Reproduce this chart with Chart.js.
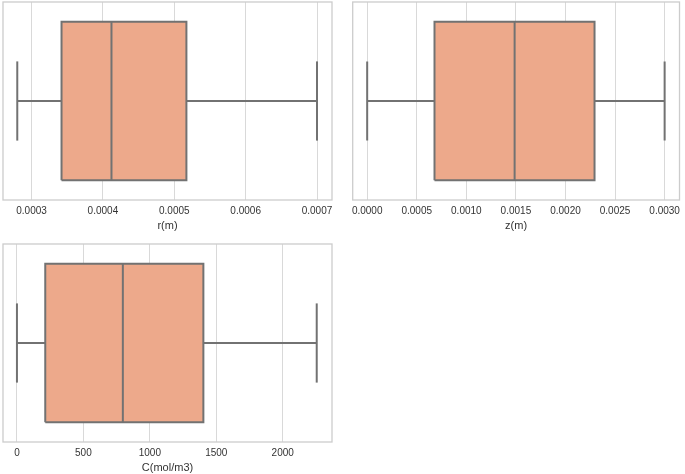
<!DOCTYPE html>
<html><head><meta charset="utf-8">
<script src="https://cdn.jsdelivr.net/npm/chart.js@4/dist/chart.umd.min.js"></script>
<style>
html,body{margin:0;padding:0;background:#fff;overflow:hidden;width:685px;height:474px;position:relative}
.w{position:absolute}
</style></head><body>
<div class="w" style="left:0px;top:0px;width:340px;height:236px"><canvas id="c0"></canvas></div>
<div class="w" style="left:340px;top:0px;width:345px;height:236px"><canvas id="c1"></canvas></div>
<div class="w" style="left:0px;top:242px;width:340px;height:236px"><canvas id="c2"></canvas></div>
<script>
// ---- data ----
const variables   = ['r(m)', 'z(m)', 'C(mol/m3)'];
const whiskerLow  = [0.00028, 0.0, 0];
const q1          = [0.000342, 0.000679, 213];
const medians     = [0.000412, 0.001487, 797];
const q3          = [0.000517, 0.002293, 1403];
const whiskerHigh = [0.0007, 0.003, 2256];
const rTicks = [0.0003, 0.0004, 0.0005, 0.0006, 0.0007];
const zTicks = [0.0, 0.0005, 0.0010, 0.0015, 0.0020, 0.0025, 0.0030];
const cTicks = [0, 500, 1000, 1500, 2000];
const tickSets = [rTicks, zTicks, cTicks];
const tickDecimals = [4, 4, 0];
const axisMin = [0.00026, -0.000146, -105];
const axisMax = [0.000721, 0.00315, 2371];

// ---- style ----
const FONT = "'Liberation Sans', Arial, sans-serif";
const BOX_FILL = '#eda98b';
const LINE = '#727272';
const BOX_HALF = 0.4, CAP_HALF = 0.2;
const paddings = [
  {left: 3, right: 8, top: 2, bottom: 0},
  {left: 12.7, right: 1.5, top: 2, bottom: 0},
  {left: 3, right: 8, top: 2, bottom: 0}
];

const framePlugin = {
  id: 'frame',
  beforeDatasetsDraw(chart) {
    const a = chart.chartArea, ctx = chart.ctx;
    ctx.save();
    ctx.strokeStyle = '#cccccc';
    ctx.lineWidth = 1.3;
    ctx.strokeRect(a.left, a.top, a.right - a.left, a.bottom - a.top);
    ctx.restore();
  }
};

function lineDs(points, extra) {
  return Object.assign({
    data: points, borderColor: LINE, borderWidth: 2, pointRadius: 0,
    fill: false, tension: 0, spanGaps: false, borderCapStyle: 'butt', borderJoinStyle: 'miter'
  }, extra || {});
}

for (let i = 0; i < 3; i++) {
  const lo = whiskerLow[i], a = q1[i], m = medians[i], b = q3[i], hi = whiskerHigh[i];
  const datasets = [
    // median
    lineDs([{x: m, y: -BOX_HALF}, {x: m, y: BOX_HALF}]),
    // box outline
    lineDs([{x: a, y: -BOX_HALF}, {x: b, y: -BOX_HALF}, {x: b, y: BOX_HALF}, {x: a, y: BOX_HALF}, {x: a, y: -BOX_HALF}]),
    // whiskers
    lineDs([{x: lo, y: 0}, {x: a, y: 0}]),
    lineDs([{x: b, y: 0}, {x: hi, y: 0}]),
    // caps
    lineDs([{x: lo, y: -CAP_HALF}, {x: lo, y: CAP_HALF}]),
    lineDs([{x: hi, y: -CAP_HALF}, {x: hi, y: CAP_HALF}]),
    // box fill (top edge filled to bottom edge)
    {data: [{x: a, y: BOX_HALF}, {x: b, y: BOX_HALF}], borderWidth: 0, pointRadius: 0,
     fill: '+1', backgroundColor: BOX_FILL, borderColor: 'rgba(0,0,0,0)'},
    {data: [{x: a, y: -BOX_HALF}, {x: b, y: -BOX_HALF}], borderWidth: 0, pointRadius: 0,
     fill: false, borderColor: 'rgba(0,0,0,0)'}
  ];
  new Chart(document.getElementById('c' + i), {
    type: 'line',
    data: {datasets},
    plugins: [framePlugin],
    options: {
      responsive: true, maintainAspectRatio: false, animation: false,
      devicePixelRatio: 1,
      layout: {padding: paddings[i]},
      plugins: {legend: {display: false}, tooltip: {enabled: false}, filler: {drawTime: 'beforeDatasetsDraw'}},
      scales: {
        x: {
          type: 'linear', min: axisMin[i], max: axisMax[i],
          afterBuildTicks: s => { s.ticks = tickSets[i].map(v => ({value: v})); },
          afterFit: s => { s.height = 36; },
          grid: {color: '#d9d9d9', lineWidth: 1, drawTicks: false},
          border: {display: false},
          ticks: {
            padding: 5, color: '#333333', maxRotation: 0, autoSkip: false,
            font: {family: FONT, size: 10},
            callback: v => Number(v).toFixed(tickDecimals[i])
          },
          title: {display: true, text: variables[i], color: '#333333',
                  font: {family: FONT, size: 11}, padding: {top: 0, bottom: 3}}
        },
        y: {type: 'linear', min: -0.5, max: 0.5, display: false}
      }
    }
  });
}
</script>
</body></html>
